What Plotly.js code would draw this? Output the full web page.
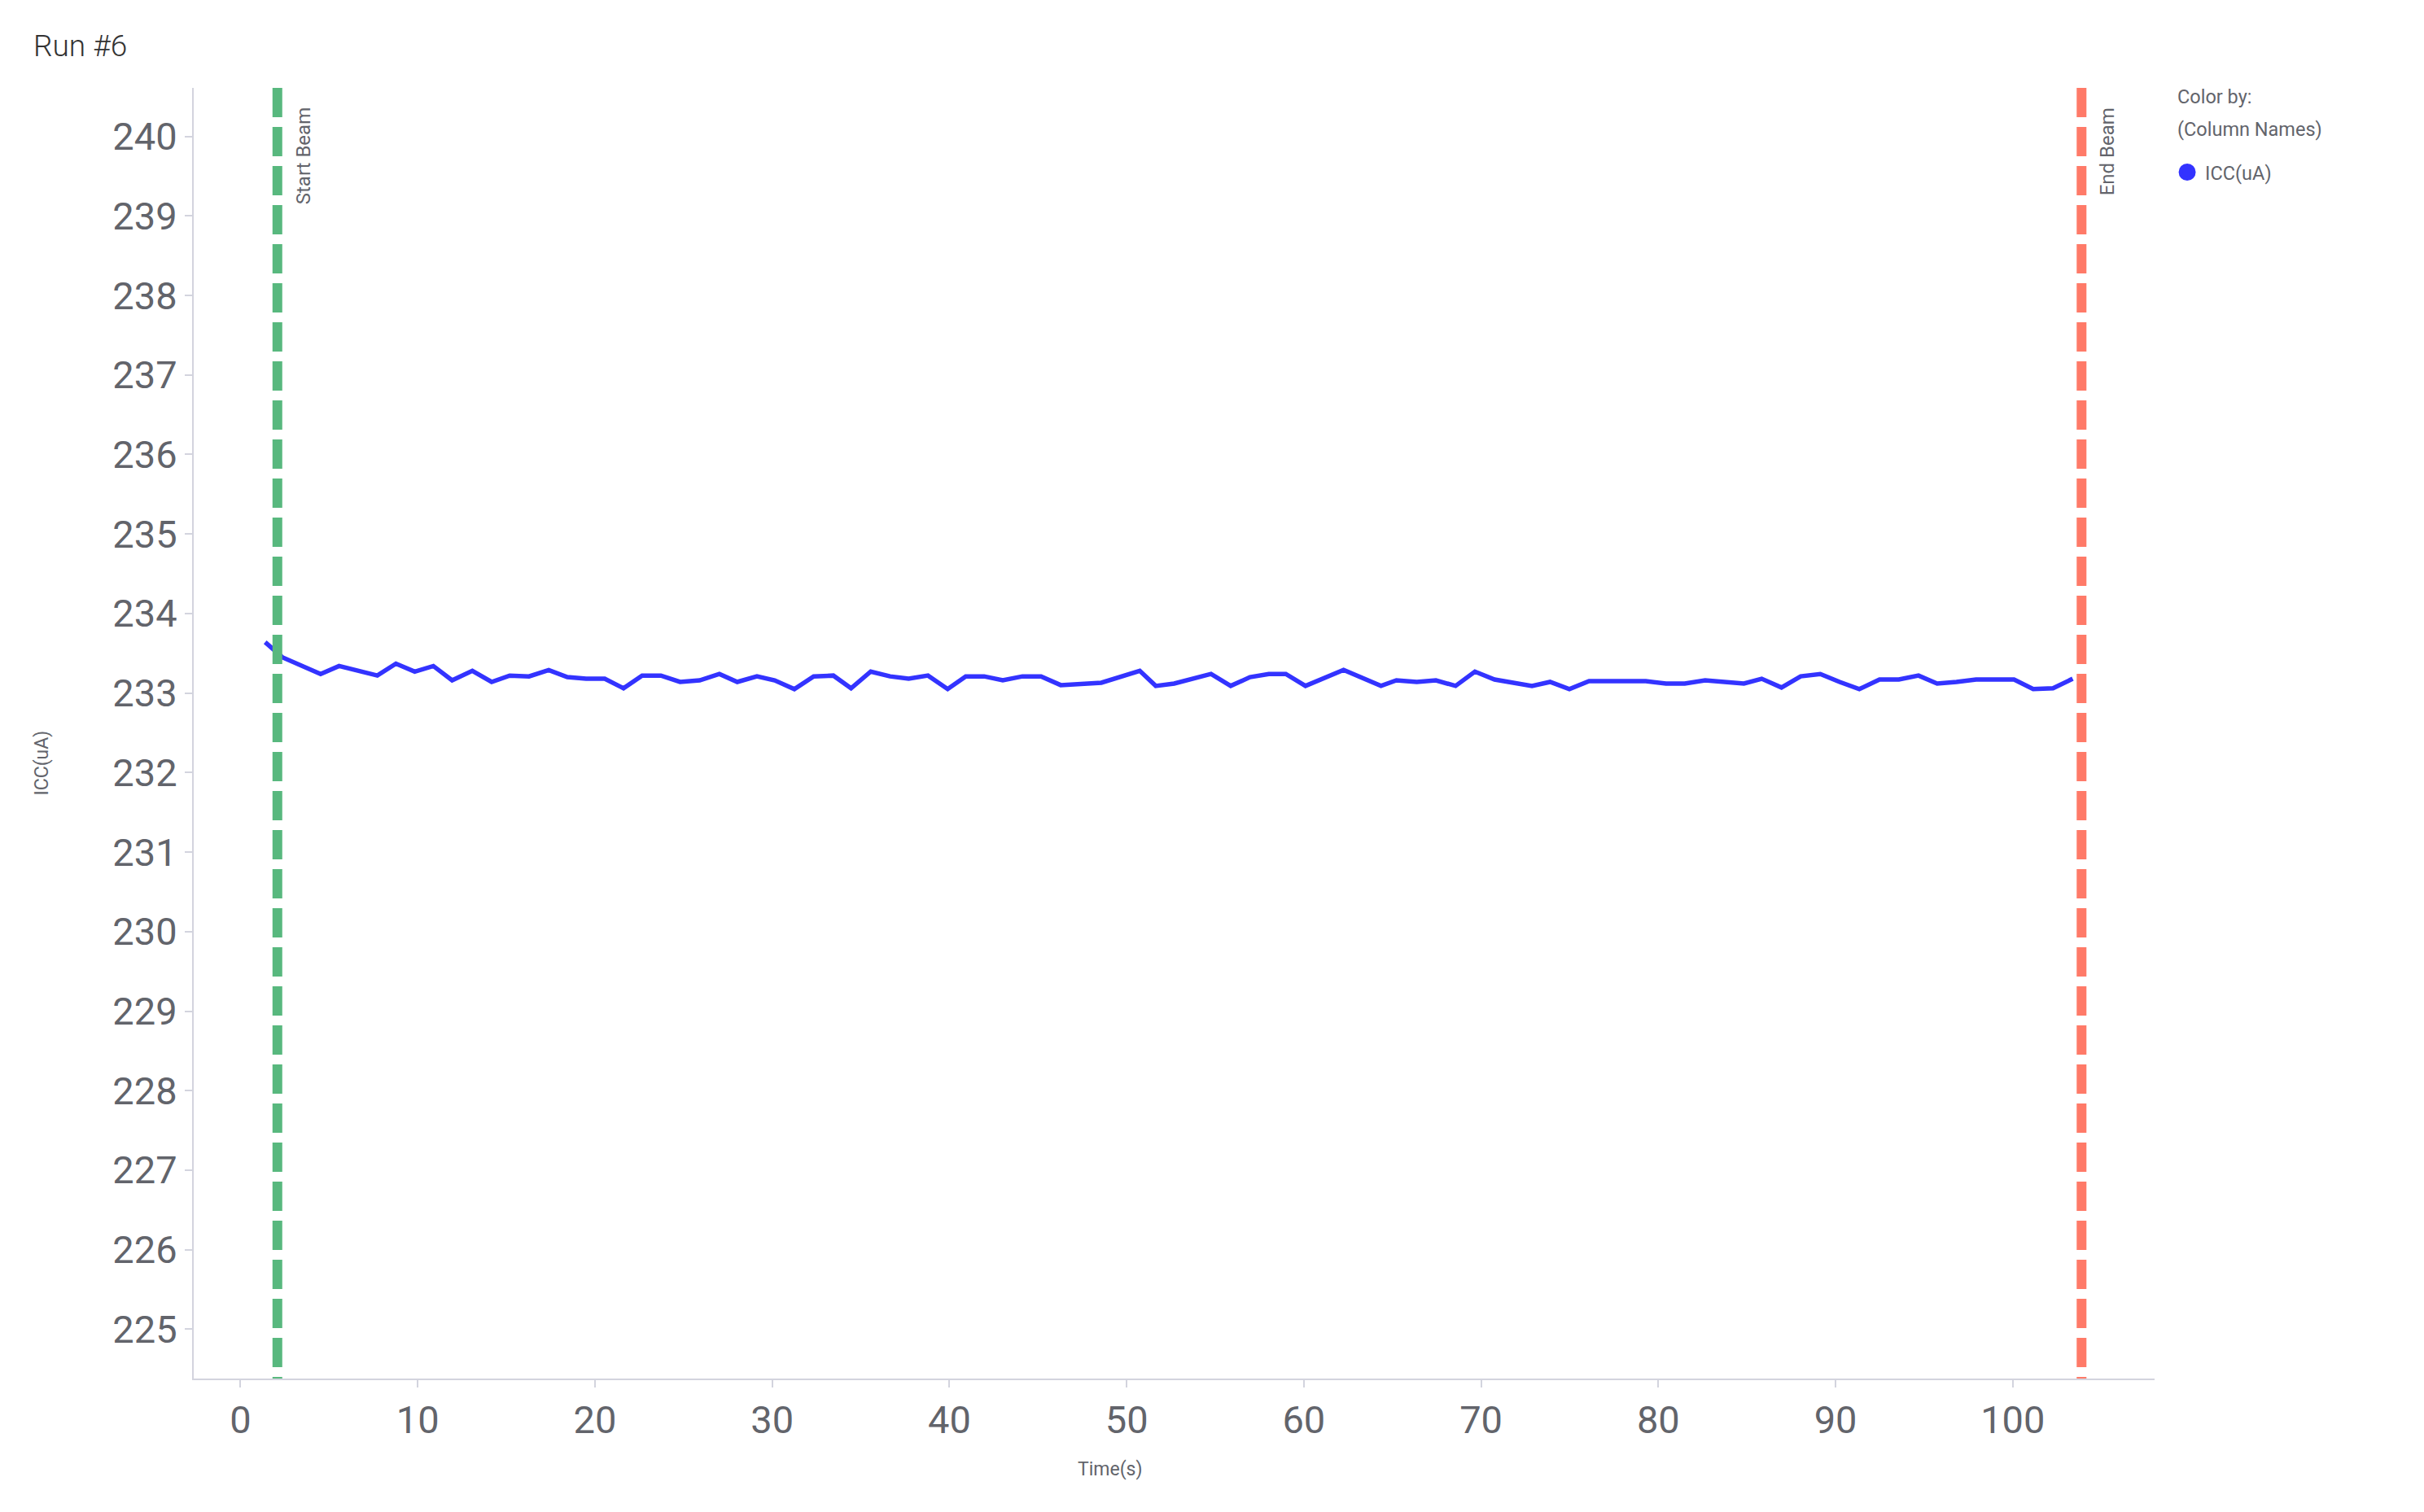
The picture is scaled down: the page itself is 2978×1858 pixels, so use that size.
<!DOCTYPE html>
<html>
<head>
<meta charset="utf-8">
<script src="https://cdn.plot.ly/plotly-3.0.1.min.js"></script>
<style>
  html, body { margin: 0; padding: 0; background: #fff; }
  #chart { width: 2978px; height: 1858px; }
</style>
</head>
<body>
<div id="chart"></div>
<script>
// time stamps (s) and ICC readings (uA) for run #6
var timeS = [1.39, 2.36, 4.52, 5.56, 7.72, 8.77, 9.83, 10.88, 11.94, 13.08, 14.17, 15.19,
  16.28, 17.39, 18.44, 19.50, 20.55, 21.61, 22.66, 23.72, 24.80, 25.91, 27.02,
  28.03, 29.14, 30.14, 31.25, 32.34, 33.45, 34.45, 35.56, 36.65, 37.70, 38.79, 39.90,
  40.92, 41.96, 43.01, 44.12, 45.17, 46.28, 48.57, 50.74, 51.64, 52.68,
  54.76, 55.87, 56.96, 58.02, 58.98, 60.09, 62.24, 64.35, 65.22, 66.37, 67.45, 68.56,
  69.65, 70.76, 72.87, 73.89, 74.98, 76.09, 79.29, 80.43,
  81.49, 82.64, 84.83, 85.83, 86.95, 88.03, 89.14, 90.23, 91.34, 92.48, 93.57, 94.68,
  95.73, 96.82, 97.93, 100.07, 101.15, 102.27, 103.38];
var iccUA = [233.64, 233.45, 233.24, 233.34, 233.22, 233.37, 233.27, 233.34, 233.16, 233.28, 233.14, 233.22,
  233.21, 233.29, 233.20, 233.18, 233.18, 233.06, 233.22, 233.22, 233.14, 233.16, 233.24,
  233.14, 233.21, 233.16, 233.05, 233.21, 233.22, 233.06, 233.27, 233.21, 233.18, 233.22, 233.05,
  233.21, 233.21, 233.16, 233.21, 233.21, 233.10, 233.13, 233.28, 233.09, 233.12,
  233.24, 233.09, 233.20, 233.24, 233.24, 233.09, 233.29, 233.09, 233.16, 233.14, 233.16, 233.09,
  233.27, 233.17, 233.09, 233.14, 233.05, 233.15, 233.15, 233.12,
  233.12, 233.16, 233.12, 233.18, 233.07, 233.21, 233.24, 233.14, 233.05, 233.17, 233.17, 233.22,
  233.12, 233.14, 233.17, 233.17, 233.05, 233.06, 233.18];

var beamTimes = [2.08, 103.88];
var beamLabels = ['Start Beam', 'End Beam'];
var beamColors = ['#58b87e', '#ff7a68'];

var seriesName = 'ICC(uA)';
var legendHead = ['Color by:', '(Column Names)'];
var lineColor = '#3333ff';
var textGrey = '#62646b';
var axisGrey = '#d3d4de';

// main line + legend-only circle
var trace1 = {
  x: timeS,
  y: iccUA,
  mode: 'lines',
  line: {color: lineColor, width: 5.5},
  showlegend: false,
  hoverinfo: 'x+y'
};
var trace2 = {
  x: [null],
  y: [null],
  mode: 'markers',
  name: seriesName,
  marker: {color: lineColor, size: 16, line: {color: lineColor, width: 5}}
};

var shapes = [];
var annotations = [];
for (var i = 0; i < beamTimes.length; i++) {
  shapes.push({
    type: 'line', xref: 'x', yref: 'paper',
    x0: beamTimes[i], x1: beamTimes[i], y0: 1, y1: 0,
    line: {color: beamColors[i], width: 12, dash: '36px,12px'}
  });
  annotations.push({
    text: beamLabels[i], xref: 'x', yref: 'paper',
    x: beamTimes[i], y: 1, xanchor: 'center', yanchor: 'top',
    xshift: 32, yshift: -22, textangle: -90, showarrow: false,
    font: {family: 'Roboto', size: 24, color: textGrey}
  });
}
// axis titles
annotations.push({
  text: 'Time(s)', xref: 'paper', yref: 'paper', x: 0.467, y: 0,
  xanchor: 'center', yanchor: 'middle', yshift: -111, showarrow: false,
  font: {family: 'Roboto', size: 23, color: textGrey}
});
annotations.push({
  text: 'ICC(uA)', xref: 'paper', yref: 'paper', x: 0, y: 0.477,
  xanchor: 'center', yanchor: 'middle', xshift: -187, textangle: -90, showarrow: false,
  font: {family: 'Roboto', size: 23, color: textGrey}
});
// legend heading lines
for (var j = 0; j < legendHead.length; j++) {
  annotations.push({
    text: legendHead[j], xref: 'paper', yref: 'paper',
    x: 1.0108, y: 1 - (11 + 40 * j) / 1586,
    xanchor: 'left', yanchor: 'middle', showarrow: false,
    font: {family: 'Roboto', size: 23.5, color: textGrey}
  });
}

var layout = {
  width: 2978,
  height: 1858,
  paper_bgcolor: '#ffffff',
  plot_bgcolor: '#ffffff',
  margin: {l: 238, r: 331, t: 108, b: 164},
  font: {family: 'Roboto', color: textGrey},
  title: {
    text: 'Run #6', x: 41 / 2978, xanchor: 'left', y: 1 - 56 / 1858, yanchor: 'middle',
    font: {family: 'Roboto', size: 37, weight: 300, color: '#333333'}
  },
  xaxis: {
    range: [-2.64, 108.0], dtick: 10, tick0: 0,
    showgrid: false, zeroline: false,
    showline: true, linecolor: axisGrey, linewidth: 2,
    ticks: 'outside', ticklen: 9, tickcolor: axisGrey, tickwidth: 2,
    tickfont: {family: 'Roboto', size: 47, color: textGrey}
  },
  yaxis: {
    range: [224.38, 240.61], dtick: 1, tick0: 225,
    showgrid: false, zeroline: false,
    showline: true, linecolor: axisGrey, linewidth: 2,
    ticks: 'outside', ticklen: 9, tickcolor: axisGrey, tickwidth: 2,
    tickfont: {family: 'Roboto', size: 47, color: textGrey}
  },
  showlegend: true,
  legend: {
    x: 1.0075, xanchor: 'left', y: 0.9485, yanchor: 'top',
    itemwidth: 34,
    font: {family: 'Roboto', size: 23.5, color: textGrey},
    bgcolor: 'rgba(0,0,0,0)'
  },
  shapes: shapes,
  annotations: annotations
};

Plotly.newPlot('chart', [trace1, trace2], layout, {displayModeBar: false});
</script>
</body>
</html>
